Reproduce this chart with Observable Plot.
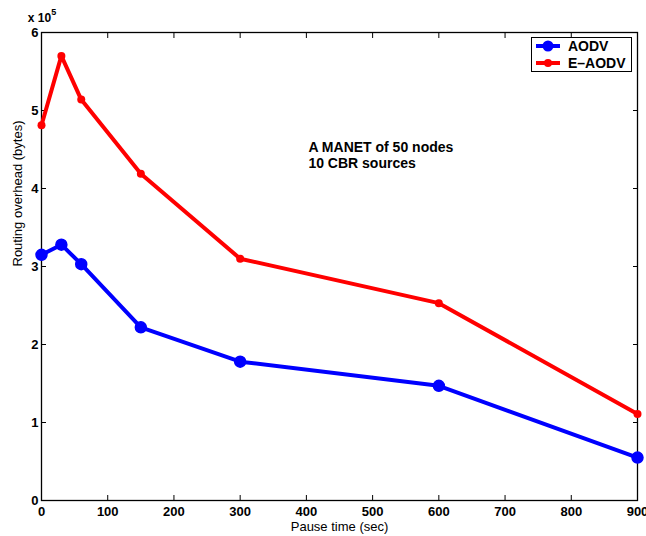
<!DOCTYPE html>
<html>
<head>
<meta charset="utf-8">
<script src="https://cdn.jsdelivr.net/npm/d3@7"></script>
<script src="https://cdn.jsdelivr.net/npm/@observablehq/plot@0.6"></script>
<style>
  html, body { margin: 0; padding: 0; background: #fff; }
  #wrap { position: relative; width: 646px; height: 536px; font-family: "Liberation Sans", Arial, sans-serif; }
  #legend { position: absolute; left: 531px; top: 37px; width: 101px; height: 35px; border: 1px solid #000; background: #fff; box-sizing: border-box; font-weight: bold; font-size: 14px; }
  .li { position: absolute; left: 3px; display: flex; align-items: center; height: 16px; }
  .li svg { margin-right: 7px; }
</style>
</head>
<body>
<div id="wrap"></div>
<script>
const pauseTimes = [0, 30, 60, 150, 300, 600, 900];
const aodv  = [315000, 328000, 303000, 222000, 178000, 147000, 55000];
const eaodv = [481000, 570000, 514000, 419000, 310000, 253000, 111000];
const seriesNames = ["AODV", "E\u2013AODV"];
const seriesColors = ["#0000ff", "#ff0000"];
const xTicks = [0, 100, 200, 300, 400, 500, 600, 700, 800, 900];
const yTicks = [0, 1, 2, 3, 4, 5, 6];
const annotation = ["A MANET of 50 nodes", "10 CBR sources"];

const rowsA = pauseTimes.map((x, i) => ({x, y: aodv[i] / 1e5}));
const rowsE = pauseTimes.map((x, i) => ({x, y: eaodv[i] / 1e5}));

const chart = Plot.plot({
  width: 646,
  height: 536,
  marginLeft: 41,
  marginRight: 9,
  marginTop: 32,
  marginBottom: 36,
  style: {fontFamily: "Liberation Sans, Arial, sans-serif", fontSize: "13px", color: "#000", background: "#fff", overflow: "visible"},
  x: {domain: [0, 900]},
  y: {domain: [0, 6]},
  marks: [
    Plot.frame({stroke: "#000", strokeWidth: 1.3}),
    Plot.axisX({anchor: "bottom", ticks: xTicks, tickFormat: d => String(d), tickSize: -5, tickPadding: 11, fontWeight: "bold", fontSize: 13, label: null}),
    Plot.axisX({anchor: "top", ticks: xTicks, tickSize: -5, tickFormat: () => "", label: null}),
    Plot.axisY({anchor: "left", ticks: yTicks, tickFormat: d => String(d), tickSize: -5, tickPadding: 8, fontWeight: "bold", fontSize: 13, label: null}),
    Plot.axisY({anchor: "right", ticks: yTicks, tickSize: -5, tickFormat: () => "", label: null}),
    Plot.line(rowsA, {x: "x", y: "y", stroke: seriesColors[0], strokeWidth: 4}),
    Plot.dot(rowsA, {x: "x", y: "y", r: 5.5, fill: seriesColors[0], stroke: seriesColors[0], strokeWidth: 1.5}),
    Plot.line(rowsE, {x: "x", y: "y", stroke: seriesColors[1], strokeWidth: 4}),
    Plot.dot(rowsE, {x: "x", y: "y", r: 4, fill: seriesColors[1]}),
    Plot.text([annotation.join("\n")], {x: 403, y: 4.43, text: d => d, textAnchor: "start", lineAnchor: "middle", fontWeight: "bold", fontSize: 14, lineHeight: 1.15}),
    Plot.text(["Pause time (sec)"], {frameAnchor: "bottom", dy: 30, text: d => d, fontSize: 13}),
    Plot.text(["Routing overhead (bytes)"], {frameAnchor: "left", dx: -24, rotate: -90, text: d => d, fontSize: 13})
  ]
});

const svg = d3.select(chart);
const t = svg.append("text")
  .attr("x", 42).attr("y", 22)
  .attr("font-weight", "bold").attr("font-size", 12)
  .attr("font-family", "Liberation Sans, Arial, sans-serif")
  .text("x 10");
t.append("tspan").attr("dy", -7).attr("font-size", 9).text("5");

const wrap = document.getElementById("wrap");
wrap.appendChild(chart);

const legend = document.createElement("div");
legend.id = "legend";
seriesNames.forEach((name, i) => {
  const item = document.createElement("div");
  item.className = "li";
  item.style.top = (i === 0 ? 0 : 17) + "px";
  const r = i === 0 ? 5.5 : 4;
  item.innerHTML = `<svg width="26" height="14"><line x1="1" y1="7" x2="25" y2="7" stroke="${seriesColors[i]}" stroke-width="4"/><circle cx="13" cy="7" r="${r}" fill="${seriesColors[i]}"/></svg><span>${name}</span>`;
  legend.appendChild(item);
});
wrap.appendChild(legend);
</script>
</body>
</html>
